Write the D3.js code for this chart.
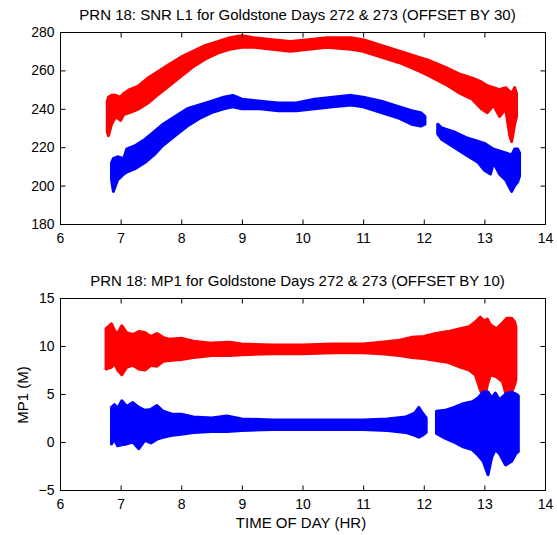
<!DOCTYPE html>
<html>
<head>
<meta charset="utf-8">
<script src="https://cdn.jsdelivr.net/npm/d3@7"></script>
<style>
  body { margin: 0; background: #fff; }
  svg { display: block; }
  text { font-family: "Liberation Sans", Arial, sans-serif; fill: #000; }
</style>
</head>
<body>
<div id="chart"></div>
<script>
// Data - band envelopes: [hour, upper, lower]
var xTicks = [6, 7, 8, 9, 10, 11, 12, 13, 14];
var snrTicks = [180, 200, 220, 240, 260, 280];
var mpTicks = [-5, 0, 5, 10, 15];

// SNR L1, day 273 (offset by 30)
var snrRed = [
  [6.78, 244, 228], [6.80, 246, 226], [6.85, 247, 232], [6.92, 247, 236], [7.0, 246, 234],
  [7.05, 248, 237], [7.15, 250, 238], [7.3, 252, 240], [7.45, 256, 243], [7.6, 259, 247],
  [7.8, 263, 252], [8.0, 267, 257], [8.2, 270, 262], [8.4, 273, 266], [8.6, 275, 269],
  [8.8, 277, 271], [9.0, 278, 272], [9.2, 277, 272], [9.5, 276, 271], [9.8, 275, 270],
  [10.1, 276, 271], [10.4, 277, 272], [10.8, 277, 271], [11.0, 276, 270], [11.3, 273, 267],
  [11.6, 270, 264], [11.9, 267, 260], [12.1, 265, 257], [12.4, 261, 252], [12.6, 258, 248],
  [12.8, 256, 245], [12.95, 254, 240], [13.05, 252, 238], [13.15, 251, 242], [13.25, 250, 236],
  [13.35, 251, 240], [13.42, 249, 226], [13.45, 248, 223], [13.5, 251, 232], [13.53, 248, 236]
];
// SNR L1, day 272 (two passes, gap near 12 h)
var snrBlue1 = [
  [6.85, 212, 203], [6.88, 214, 197], [6.95, 215, 203], [7.05, 214, 206], [7.1, 219, 207],
  [7.25, 221, 209], [7.4, 224, 212], [7.55, 228, 216], [7.7, 232, 221], [7.9, 236, 226],
  [8.1, 240, 231], [8.3, 242, 235], [8.5, 244, 238], [8.7, 246, 240], [8.85, 247, 241],
  [9.0, 245, 240], [9.3, 244, 240], [9.6, 243, 239], [9.9, 243, 239], [10.2, 245, 240],
  [10.5, 246, 241], [10.8, 247, 242], [11.0, 246, 241], [11.3, 244, 238], [11.6, 241, 235],
  [11.8, 239, 232], [11.95, 238, 231], [12.02, 236, 232]
];
var snrBlue2 = [
  [12.23, 232, 227], [12.3, 230, 224], [12.5, 228, 220], [12.7, 225, 216], [12.9, 223, 212],
  [13.0, 222, 208], [13.1, 220, 206], [13.15, 219, 212], [13.25, 218, 206], [13.35, 217, 203],
  [13.45, 216, 197], [13.5, 219, 200], [13.55, 219, 202], [13.58, 217, 205]
];

// MP1, day 273 (offset by 10)
var mpRed = [
  [6.76, 11.8, 7.6], [6.85, 12.3, 7.8], [6.9, 11.6, 8.2], [6.95, 11.3, 7.5], [7.02, 12.1, 7.0],
  [7.1, 11.4, 7.8], [7.2, 11.2, 8.0], [7.3, 11.5, 7.6], [7.4, 11.4, 7.5], [7.5, 11.0, 8.0],
  [7.6, 11.3, 7.9], [7.7, 10.9, 8.4], [7.8, 10.7, 8.5], [8.0, 10.8, 8.6], [8.2, 10.5, 8.8],
  [8.5, 10.3, 9.0], [8.8, 10.4, 9.0], [9.0, 10.2, 9.1], [9.5, 10.1, 9.2], [10.0, 10.1, 9.2],
  [10.5, 10.2, 9.3], [11.0, 10.2, 9.3], [11.3, 10.4, 9.2], [11.6, 10.6, 9.0], [11.8, 10.9, 8.8],
  [12.0, 11.0, 8.7], [12.2, 11.3, 8.5], [12.4, 11.5, 8.3], [12.6, 11.8, 7.8], [12.75, 12.0, 7.5],
  [12.85, 12.5, 7.0], [12.93, 13.0, 5.5], [13.0, 12.6, 4.4], [13.05, 12.8, 6.0], [13.1, 12.2, 7.0],
  [13.2, 11.8, 6.8], [13.3, 12.4, 6.3], [13.37, 12.9, 4.7], [13.45, 12.9, 5.2], [13.5, 12.5, 6.0],
  [13.52, 12.0, 6.5]
];
var mpBlue1 = [
  [6.85, 3.6, -0.2], [6.9, 3.9, 0.3], [6.95, 3.5, -0.4], [7.02, 4.3, -0.3], [7.1, 3.7, -0.2],
  [7.2, 4.1, 0.0], [7.3, 3.6, -0.7], [7.4, 3.3, 0.2], [7.5, 3.4, -0.1], [7.6, 3.8, 0.3],
  [7.7, 3.2, 0.5], [7.85, 2.9, 0.7], [8.0, 2.9, 0.8], [8.2, 2.6, 1.0], [8.5, 2.5, 1.1],
  [8.75, 2.7, 1.1], [9.0, 2.4, 1.2], [9.5, 2.3, 1.3], [10.0, 2.3, 1.3], [10.5, 2.3, 1.3],
  [11.0, 2.3, 1.3], [11.4, 2.4, 1.2], [11.7, 2.6, 1.0], [11.85, 3.0, 0.7], [11.92, 3.6, 0.5],
  [11.98, 3.0, 0.7], [12.04, 2.5, 1.0]
];
var mpBlue2 = [
  [12.21, 3.2, 0.9], [12.35, 3.3, 0.4], [12.5, 3.6, 0.0], [12.65, 4.0, -0.5], [12.8, 4.2, -0.8],
  [12.9, 4.6, -1.4], [12.98, 5.2, -2.0], [13.06, 5.2, -3.4], [13.12, 4.6, -1.6], [13.18, 5.1, -0.8],
  [13.25, 4.4, -1.2], [13.35, 5.0, -2.4], [13.45, 5.2, -2.0], [13.52, 5.0, -1.2], [13.56, 4.8, -1.0]
];

var red = "#ff0000", blue = "#0000ff";

var width = 557, height = 535;
var left = 60, right = 545;

var svg = d3.select("#chart").append("svg")
    .attr("width", width)
    .attr("height", height);

var x = d3.scaleLinear().domain([6, 14]).range([left, right]);

function panel(top, bottom, yDomain, yTicks, title, series) {
    var y = d3.scaleLinear().domain(yDomain).range([bottom, top]);
    var g = svg.append("g");

    // bands
    var area = d3.area()
        .x(function(d) { return x(d[0]); })
        .y0(function(d) { return y(d[2]); })
        .y1(function(d) { return y(d[1]); })
        .curve(d3.curveLinear);
    series.forEach(function(s) {
        g.append("path")
            .attr("d", area(s.data))
            .attr("fill", s.color)
            .attr("stroke", s.color)
            .attr("stroke-width", 3)
            .attr("stroke-linejoin", "round");
    });

    // box
    g.append("rect")
        .attr("x", left + 0.5).attr("y", top + 0.5)
        .attr("width", right - left).attr("height", bottom - top)
        .attr("fill", "none").attr("stroke", "#000");

    // axes with inward ticks (matlab style)
    var ax = g.append("g").attr("transform", "translate(0," + (bottom + 0.5) + ")")
        .call(d3.axisBottom(x).tickValues(xTicks).tickSizeInner(-5).tickSizeOuter(0).tickPadding(9));
    var axTop = g.append("g").attr("transform", "translate(0," + (top + 0.5) + ")")
        .call(d3.axisTop(x).tickValues(xTicks).tickSizeInner(-5).tickSizeOuter(0).tickFormat(""));
    var ay = g.append("g").attr("transform", "translate(" + (left + 0.5) + ",0)")
        .call(d3.axisLeft(y).tickValues(yTicks).tickSizeInner(-5).tickSizeOuter(0).tickPadding(6));
    var ayR = g.append("g").attr("transform", "translate(" + (right + 0.5) + ",0)")
        .call(d3.axisRight(y).tickValues(yTicks).tickSizeInner(-5).tickSizeOuter(0).tickFormat(""));

    [ax, axTop, ay, ayR].forEach(function(a) {
        a.select(".domain").remove();
        a.selectAll("text")
            .style("font-family", "'Liberation Sans', Arial, sans-serif")
            .style("font-size", "14px")
            .attr("fill", "#000");
        a.selectAll("line").attr("stroke", "#000");
    });

    svg.append("text")
        .attr("x", (left + right) / 2 - 5)
        .attr("y", top - 12)
        .attr("text-anchor", "middle")
        .style("font-size", "15px")
        .text(title);
    return y;
}

panel(32, 224, [180, 280], snrTicks,
    "PRN 18: SNR L1 for Goldstone Days 272 & 273 (OFFSET BY 30)",
    [{data: snrRed, color: red}, {data: snrBlue1, color: blue}, {data: snrBlue2, color: blue}]);

panel(298, 490, [-5, 15], mpTicks,
    "PRN 18: MP1 for Goldstone Days 272 & 273 (OFFSET BY 10)",
    [{data: mpRed, color: red}, {data: mpBlue1, color: blue}, {data: mpBlue2, color: blue}]);

svg.append("text")
    .attr("x", 301)
    .attr("y", 528)
    .attr("text-anchor", "middle")
    .style("font-size", "15px")
    .text("TIME OF DAY (HR)");

svg.append("text")
    .attr("transform", "translate(28,395) rotate(-90)")
    .attr("text-anchor", "middle")
    .style("font-size", "15px")
    .text("MP1 (M)");
</script>
</body>
</html>
